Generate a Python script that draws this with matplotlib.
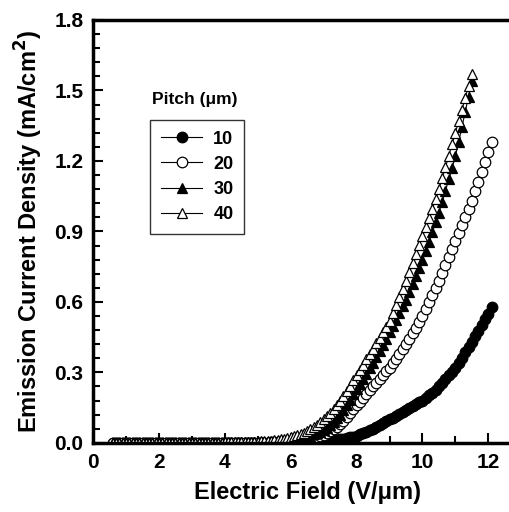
import numpy as np
import matplotlib
matplotlib.use("Agg")
from matplotlib import pyplot as plt
from matplotlib.ticker import MultipleLocator

plt.rcParams['font.family'] = ['Liberation Sans', 'DejaVu Sans']
plt.rcParams['font.weight'] = 'bold'

# electric field sweep (V/um), 0.1 V/um steps
field = np.round(np.arange(0.6, 12.15, 0.1), 1)

pitches = ["10", "20", "30", "40"]

# emission current density (mA/cm^2)
j10 = [0.0, 0.0, 0.0, 0.0, 0.0, 0.0, 0.0, 0.0, 0.0, 0.0,
       0.0, 0.0, 0.0, 0.0, 0.0, 0.0, 0.0, 0.0, 0.0, 0.0,
       0.0, 0.0, 0.0, 0.0, 0.0, 0.0, 0.0, 0.0, 0.0, 0.0,
       0.0, 0.0, 0.0, 0.0, 0.0, 0.0, 0.0, 0.0, 0.0, 0.0,
       0.0, 0.0, 0.0, 0.0, 0.0, 0.0, 0.0, 0.0, 0.0, 0.0,
       0.001, 0.001, 0.001, 0.001, 0.001, 0.002, 0.002, 0.003, 0.003, 0.004,
       0.004, 0.005, 0.005, 0.006, 0.006, 0.008, 0.009, 0.011, 0.013, 0.015,
       0.018, 0.021, 0.024, 0.027, 0.030, 0.036, 0.042, 0.048, 0.054, 0.060,
       0.068, 0.076, 0.084, 0.092, 0.100, 0.108, 0.116, 0.124, 0.132, 0.140,
       0.148, 0.156, 0.164, 0.172, 0.180, 0.191, 0.202, 0.214, 0.227, 0.240,
       0.255, 0.271, 0.287, 0.303, 0.320, 0.341, 0.363, 0.385, 0.407, 0.430,
       0.454, 0.478, 0.502, 0.526, 0.550, 0.580]

j20 = [0.0, 0.0, 0.0, 0.0, 0.0, 0.0, 0.0, 0.0, 0.0, 0.0,
       0.0, 0.0, 0.0, 0.0, 0.0, 0.0, 0.0, 0.0, 0.0, 0.0,
       0.0, 0.0, 0.0, 0.0, 0.0, 0.0, 0.0, 0.0, 0.0, 0.0,
       0.0, 0.0, 0.0, 0.0, 0.0, 0.0, 0.0, 0.0, 0.0, 0.0,
       0.0, 0.0, 0.0, 0.0, 0.001, 0.001, 0.001, 0.001, 0.002, 0.002,
       0.003, 0.003, 0.004, 0.005, 0.006, 0.007, 0.009, 0.011, 0.013, 0.015,
       0.018, 0.022, 0.026, 0.030, 0.035, 0.042, 0.050, 0.059, 0.069, 0.080,
       0.095, 0.111, 0.127, 0.143, 0.160, 0.176, 0.192, 0.208, 0.224, 0.240,
       0.256, 0.272, 0.288, 0.304, 0.320, 0.339, 0.358, 0.378, 0.399, 0.420,
       0.443, 0.466, 0.490, 0.515, 0.540, 0.569, 0.599, 0.629, 0.659, 0.690,
       0.723, 0.757, 0.791, 0.825, 0.860, 0.893, 0.927, 0.961, 0.995, 1.030,
       1.070, 1.110, 1.152, 1.195, 1.238, 1.280]

j30 = [0.0, 0.0, 0.0, 0.0, 0.0, 0.0, 0.0, 0.0, 0.0, 0.0,
       0.0, 0.0, 0.0, 0.0, 0.0, 0.0, 0.0, 0.0, 0.0, 0.0,
       0.0, 0.0, 0.0, 0.0, 0.0, 0.0, 0.0, 0.0, 0.0, 0.0,
       0.0, 0.0, 0.0, 0.0, 0.0, 0.0, 0.0, 0.0, 0.0, 0.0,
       0.001, 0.001, 0.001, 0.002, 0.002, 0.002, 0.003, 0.003, 0.004, 0.005,
       0.006, 0.007, 0.008, 0.009, 0.010, 0.012, 0.015, 0.018, 0.021, 0.025,
       0.030, 0.036, 0.042, 0.048, 0.055, 0.065, 0.076, 0.089, 0.104, 0.120,
       0.140, 0.161, 0.183, 0.206, 0.230, 0.251, 0.273, 0.295, 0.317, 0.340,
       0.365, 0.391, 0.417, 0.443, 0.470, 0.497, 0.524, 0.552, 0.581, 0.610,
       0.643, 0.677, 0.711, 0.745, 0.780, 0.818, 0.857, 0.897, 0.938, 0.980,
       1.026, 1.073, 1.121, 1.170, 1.220, 1.282, 1.345, 1.409, 1.474, 1.540]

j40 = [0.0, 0.0, 0.0, 0.0, 0.0, 0.0, 0.0, 0.0, 0.0, 0.0,
       0.0, 0.0, 0.0, 0.0, 0.0, 0.0, 0.0, 0.0, 0.0, 0.0,
       0.0, 0.0, 0.0, 0.0, 0.0, 0.0, 0.0, 0.0, 0.0, 0.0,
       0.001, 0.001, 0.001, 0.001, 0.002, 0.002, 0.002, 0.002, 0.003, 0.003,
       0.003, 0.004, 0.004, 0.004, 0.005, 0.006, 0.007, 0.008, 0.009, 0.011,
       0.013, 0.015, 0.018, 0.021, 0.025, 0.029, 0.033, 0.038, 0.044, 0.050,
       0.058, 0.067, 0.077, 0.088, 0.100, 0.114, 0.129, 0.145, 0.162, 0.180,
       0.200, 0.221, 0.243, 0.266, 0.290, 0.311, 0.333, 0.355, 0.377, 0.400,
       0.423, 0.446, 0.470, 0.495, 0.520, 0.553, 0.586, 0.620, 0.655, 0.690,
       0.727, 0.764, 0.802, 0.841, 0.880, 0.918, 0.957, 0.997, 1.038, 1.080,
       1.126, 1.173, 1.222, 1.271, 1.320, 1.369, 1.418, 1.468, 1.519, 1.570]

series = [j10, j20, j30, j40]
markers = ["o", "o", "^", "^"]
fills = ["black", "white", "black", "white"]

fig = plt.figure(figsize=(5.09, 5.12), dpi=100)
ax = fig.add_axes([0.183, 0.135, 0.841, 0.826])

for name, y, m, fc in zip(pitches, series, markers, fills):
    x = field[:len(y)]
    ax.plot(x, y, color="black", linewidth=0.8, marker=m, markersize=7.6,
            mfc=fc, mec="black", mew=0.9, label=name)

ax.set_xlim(0, 13)
ax.set_ylim(0, 1.8)
ax.xaxis.set_major_locator(MultipleLocator(2))
ax.xaxis.set_minor_locator(MultipleLocator(1))
ax.yaxis.set_major_locator(MultipleLocator(0.3))
ax.yaxis.set_minor_locator(MultipleLocator(0.06))
ax.yaxis.set_major_formatter(plt.FormatStrFormatter('%.1f'))

for s in ax.spines.values():
    s.set_linewidth(2.5)
ax.tick_params(which="both", direction="in", width=1.5, labelsize=15,
               top=False, right=False)
ax.tick_params(which="major", length=7, pad=7)
ax.tick_params(which="minor", length=5)

ax.set_xlabel("Electric Field (V/\u03bcm)", fontsize=17, fontweight="bold", labelpad=7)
ax.set_ylabel("Emission Current Density (mA/cm$\\mathbf{^2}$)", fontsize=17,
              fontweight="bold", labelpad=7)

leg = ax.legend(loc="upper left", bbox_to_anchor=(0.133, 0.764), fontsize=13,
                frameon=True, fancybox=False, edgecolor="black",
                handlelength=2.3, labelspacing=0.45, borderpad=0.6,
                handletextpad=0.6, borderaxespad=0)
leg.get_frame().set_linewidth(1.0)
for t in leg.get_texts():
    t.set_fontweight("bold")

ax.text(0.138, 0.795, "Pitch (\u03bcm)", transform=ax.transAxes, fontsize=12.5,
        fontweight="bold", ha="left", va="bottom")

fig.savefig("out.png", dpi=100)
